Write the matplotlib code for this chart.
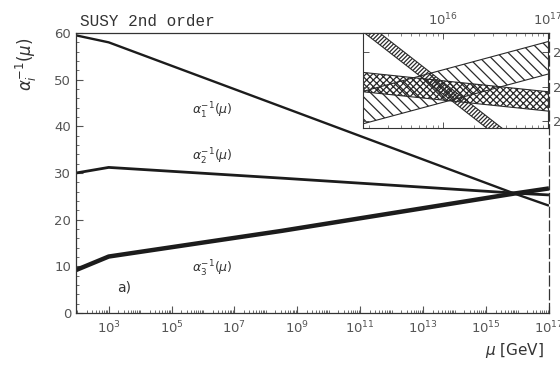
import matplotlib
matplotlib.use('Agg')
import numpy as np
import matplotlib.pyplot as plt
from matplotlib.ticker import FixedLocator, LogLocator, MultipleLocator, NullFormatter

# running of the inverse couplings, log10(mu/GeV) at the nodes
log_mu = [1.96, 3.0, 8.5, 15.9, 17.0]
alpha1_inv = [59.5, 58.0, 44.2, 25.6, 23.0]
alpha2_inv = [30.0, 31.2, 28.9, 25.7, 25.3]
alpha3_inv = [9.2, 12.1, 17.6, 25.6, 26.7]

# zoom around the unification point: band centres at both ends and half widths
zoom_log_mu = [15.24, 17.0]
zoom_a1 = [26.76, 22.59]
zoom_a2 = [25.13, 24.57]
zoom_a3 = [24.39, 25.83]
zoom_half = {'a1': 0.17, 'a2': 0.28, 'a3': 0.47}

x_tick_exp = [3, 5, 7, 9, 11, 13, 15, 17]
y_ticks = [0, 10, 20, 30, 40, 50, 60]

ink = '#1c1c1c'
grey = '#555555'
mu = 10.0 ** np.array(log_mu)

fig = plt.figure(figsize=(5.6, 3.66), dpi=100)
ax = fig.add_axes([0.1357, 0.1448, 0.8446, 0.765])

ax.plot(mu, alpha1_inv, color=ink, lw=1.7, solid_capstyle='butt')
ax.plot(mu, alpha2_inv, color=ink, lw=2.0, solid_capstyle='butt')
ax.plot(mu, alpha3_inv, color=ink, lw=3.2, solid_capstyle='butt')

ax.set_xscale('log')
ax.set_xlim(10 ** 1.96, 1e17)
ax.set_ylim(0, 60)

ax.xaxis.set_major_locator(FixedLocator([10.0 ** e for e in x_tick_exp]))
ax.set_xticklabels([r'$10^{%d}$' % e for e in x_tick_exp])
ax.xaxis.set_minor_locator(LogLocator(base=10, subs=np.arange(1, 10), numticks=100))
ax.xaxis.set_minor_formatter(NullFormatter())
ax.set_yticks(y_ticks)
ax.yaxis.set_minor_locator(MultipleLocator(2))

ax.tick_params(which='both', direction='in', colors=grey, labelsize=9.5,
               top=False, right=False)
ax.tick_params(which='major', length=5, width=0.8)
ax.tick_params(which='minor', length=2.5, width=0.6)
ax.tick_params(axis='x', pad=5)
for side in ['left', 'bottom', 'top', 'right']:
    ax.spines[side].set_color('#333333')
    ax.spines[side].set_linewidth(0.9)
ax.spines['right'].set_linestyle((0, (8, 3)))

ax.set_ylabel(r'$\alpha_i^{-1}(\mu)$', fontsize=12, color='#333333')
ax.yaxis.set_label_coords(-0.078, 0.89)
fig.text(0.918, 0.03, r'$\mu$ [GeV]', fontsize=11, color='#333333', ha='center')
fig.text(0.143, 0.922, 'SUSY 2nd order', family='Liberation Mono', fontsize=11.5,
         color='#333333', ha='left', va='bottom')

ax.text(10 ** 6.3, 43.3, r'$\alpha_1^{-1}(\mu)$', fontsize=9, color='#333333', ha='center', va='center')
ax.text(10 ** 6.3, 33.4, r'$\alpha_2^{-1}(\mu)$', fontsize=9, color='#333333', ha='center', va='center')
ax.text(10 ** 6.3, 9.5, r'$\alpha_3^{-1}(\mu)$', fontsize=9, color='#333333', ha='center', va='center')
ax.text(10 ** 3.5, 5.5, 'a)', fontsize=10, color='#333333', ha='center', va='center')

# inset: hatched bands near 10^16
ins = fig.add_axes([0.648, 0.6503, 0.3304, 0.2595])
zx = 10.0 ** np.array(zoom_log_mu)
plt.rcParams['hatch.linewidth'] = 0.9
for vals, key, hatch in [(zoom_a3, 'a3', '\\\\\\'), (zoom_a2, 'a2', 'xxxxx'), (zoom_a1, 'a1', '////////')]:
    c = np.array(vals)
    h = zoom_half[key]
    ins.fill_between(zx, c - h, c + h, facecolor='none', edgecolor='#2a2a2a', hatch=hatch, lw=0)
    ins.plot(zx, c - h, color='#2a2a2a', lw=0.8)
    ins.plot(zx, c + h, color='#2a2a2a', lw=0.8)

ins.set_xscale('log')
ins.set_xlim(10 ** 15.24, 1e17)
ins.set_ylim(23.8, 26.55)
ins.xaxis.tick_top()
ins.yaxis.tick_right()
ins.xaxis.set_major_locator(FixedLocator([1e16, 1e17]))
ins.set_xticklabels([r'$10^{16}$', r'$10^{17}$'])
ins.xaxis.set_minor_locator(LogLocator(base=10, subs=np.arange(1, 10), numticks=100))
ins.xaxis.set_minor_formatter(NullFormatter())
ins.set_yticks([24, 25, 26])
ins.tick_params(which='both', direction='in', colors=grey, labelsize=9.5,
                top=True, bottom=True, left=True, right=True)
ins.tick_params(which='major', length=4, width=0.7)
ins.tick_params(which='minor', length=2, width=0.5)
for side in ['left', 'bottom', 'top', 'right']:
    ins.spines[side].set_color('#333333')
    ins.spines[side].set_linewidth(0.8)

fig.savefig('out.png', dpi=100, facecolor='white')
plt.close('all')
